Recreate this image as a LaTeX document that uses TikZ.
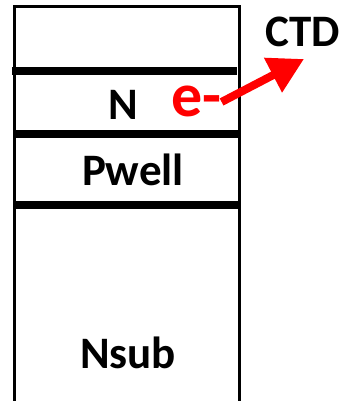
\documentclass[tikz,border=0pt]{standalone}
\usepackage{fontspec}
\setmainfont{Carlito}
\usetikzlibrary{arrows.meta}
\tikzset{
	layertext/.style={font=\fontsize{45}{54}\selectfont\bfseries, inner sep=0pt}
}
\tikzset{
	layerline/.style={line width=7.5pt}
}

\begin{document}
\begin{tikzpicture}[x=1pt, y=-1pt]
      \useasboundingbox (0,0) rectangle (338,401);
      \draw[line width=2.5pt] (14.5,401) -- (14.5,6.5) -- (239.5,6.5) -- (239.5,401);
      \draw[layerline] (12,71) -- (237,71);
      \draw[layerline] (14,134) -- (240,134);
      \draw[layerline] (14,205) -- (240,205);
      \node[layertext, anchor=base] (nlay) at (123,120) {N};
      \node[layertext, anchor=base] (pwell) at (133,185) {Pwell};
      \node[layertext, anchor=base] (nsub) at (128,368) {Nsub};
      \node[layertext, font=\fontsize{62}{64}\selectfont\bfseries, text=red, anchor=base west] (elec) at (171,117) {e-};
      \node[layertext, anchor=base west] (ctd) at (265,47) {CTD};
      \coordinate (tip) at (304,59);
      \draw[red, line width=8pt, -{Triangle[length=35pt, width=37pt]}] (elec.east) -- (tip);
    \end{tikzpicture}
\end{document}
